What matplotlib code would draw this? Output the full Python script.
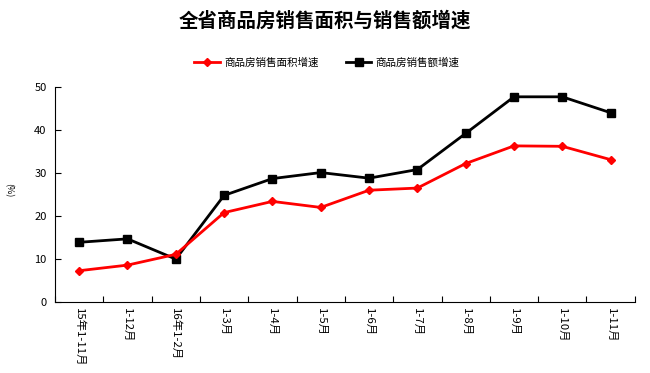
import matplotlib
matplotlib.use("Agg")
import matplotlib.pyplot as plt
from matplotlib.ticker import FixedLocator, MultipleLocator

plt.rcParams['font.family'] = ['Noto Sans CJK SC', 'DejaVu Sans']

categories = ["15年1-11月", "1-12月", "16年1-2月", "1-3月", "1-4月", "1-5月",
              "1-6月", "1-7月", "1-8月", "1-9月", "1-10月", "1-11月"]
area_growth = [7.3, 8.6, 11.1, 20.8, 23.4, 22.0, 26.0, 26.5, 32.2, 36.3, 36.2, 33.1]
sales_growth = [13.9, 14.7, 10.0, 24.8, 28.7, 30.1, 28.8, 30.8, 39.2, 47.7, 47.7, 44.0]
series_names = ["商品房销售面积增速", "商品房销售额增速"]
title = "全省商品房销售面积与销售额增速"

fig = plt.figure(figsize=(6.5, 3.73), dpi=100)
ax = fig.add_axes([0.0846, 0.190, 0.892, 0.577])

x = list(range(len(categories)))
ax.plot(x, area_growth, color="#ff0000", lw=2, marker="D", markersize=4.5,
        label=series_names[0], zorder=3)
ax.plot(x, sales_growth, color="#000000", lw=2, marker="s", markersize=6,
        label=series_names[1], zorder=2)

ax.set_xlim(-0.5, len(categories) - 0.5)
ax.set_ylim(0, 50)
ax.yaxis.set_major_locator(MultipleLocator(10))
ax.set_xticks(x)
ax.set_xticklabels(categories, rotation=270, fontsize=8.2, va="top", ha="center")
ax.xaxis.set_minor_locator(FixedLocator([i - 0.5 for i in range(len(categories) + 1)]))
ax.tick_params(axis="x", which="major", length=0, pad=4)
ax.tick_params(axis="x", which="minor", direction="in", length=4, width=0.8)
ax.tick_params(axis="y", which="major", direction="in", length=4, width=0.8, labelsize=8, pad=6)
for s in ["top", "right"]:
    ax.spines[s].set_visible(False)
for s in ["left", "bottom"]:
    ax.spines[s].set_linewidth(0.8)

fig.text(0.013, 0.49, "(%)", rotation=270, fontsize=6.5, va="center", ha="center")
fig.text(0.5, 0.945, title, fontsize=14, fontweight="bold", ha="center", va="center")

fig.legend(loc="center", bbox_to_anchor=(0.503, 0.831), ncol=2, frameon=False,
           fontsize=7.6, handlelength=2.4, columnspacing=2.6, handletextpad=0.4)

fig.savefig("out.png", dpi=100)
